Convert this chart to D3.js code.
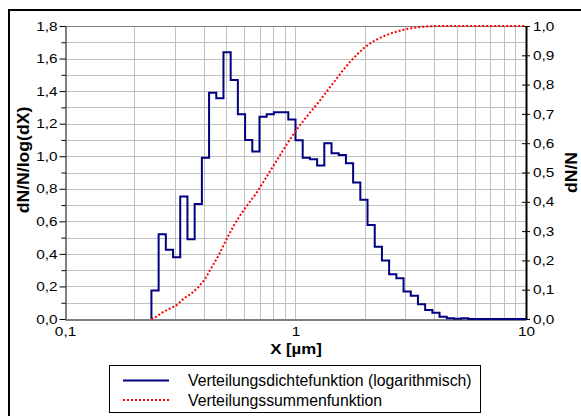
<!DOCTYPE html>
<html>
<head>
<meta charset="utf-8">
<script src="https://cdn.jsdelivr.net/npm/d3@7"></script>
<style>
body { margin: 0; background: #fff; }
svg { display: block; font-family: "Liberation Sans", Arial, sans-serif; }
</style>
</head>
<body>
<div id="chart"></div>
<script>
// Klassengrenzen in µm (32 Klassen pro Dekade)
const binEdges = [
    0.2371, 0.2548, 0.2738, 0.2943, 0.3162, 0.3398, 0.3652, 0.3925, 0.4217, 0.4532,
    0.4870, 0.5233, 0.5623, 0.6043, 0.6494, 0.6978, 0.7499, 0.8058, 0.8660, 0.9306,
    1.0000, 1.0746, 1.1548, 1.2409, 1.3335, 1.4330, 1.5399, 1.6548, 1.7783, 1.9110,
    2.0535, 2.2067, 2.3714, 2.5483, 2.7384, 2.9427, 3.1623, 3.3982, 3.6517, 3.9242,
    4.2170, 4.5316, 4.8697, 5.2330, 5.6234
];

// Verteilungsdichte dN/N/log(dX) je Klasse
const density = [
    0.175, 0.52, 0.425, 0.38, 0.752, 0.49, 0.707, 0.99, 1.39, 1.356,
    1.638, 1.469, 1.258, 1.10, 1.029, 1.243, 1.258, 1.27, 1.27, 1.225,
    1.098, 0.99, 0.982, 0.943, 1.08, 1.019, 1.008, 0.957, 0.838, 0.732,
    0.577, 0.444, 0.36, 0.275, 0.25, 0.169, 0.143, 0.09, 0.055, 0.039,
    0.014, 0.005, 0.002, 0.004
];

// Verteilungssumme dN/N je Klasse
const cumulative = [
    0.005, 0.022, 0.035, 0.047, 0.070, 0.086, 0.108, 0.139, 0.182, 0.225,
    0.276, 0.322, 0.361, 0.395, 0.427, 0.466, 0.506, 0.545, 0.585, 0.623,
    0.658, 0.689, 0.719, 0.749, 0.782, 0.814, 0.846, 0.876, 0.902, 0.925,
    0.943, 0.957, 0.968, 0.977, 0.984, 0.990, 0.994, 0.997, 0.999, 1.0,
    1.0, 1.0, 1.0, 1.0
];

const xTicks = [0.1, 1, 10];
const leftTicks = [0, 0.2, 0.4, 0.6, 0.8, 1.0, 1.2, 1.4, 1.6, 1.8];
const leftMinor = [0.1, 0.3, 0.5, 0.7, 0.9, 1.1, 1.3, 1.5, 1.7];
const rightTicks = [0, 0.1, 0.2, 0.3, 0.4, 0.5, 0.6, 0.7, 0.8, 0.9, 1.0];
const legendLabels = ["Verteilungsdichtefunktion (logarithmisch)", "Verteilungssummenfunktion"];

// Abmessungen
const width = 581;
const height = 416;
const plot = { left: 65, right: 526, top: 26, bottom: 319 };

const svg = d3.select("#chart")
    .append("svg")
    .attr("width", width)
    .attr("height", height);

svg.append("rect")
    .attr("x", 9).attr("y", 10)
    .attr("width", 600).attr("height", 600)
    .attr("fill", "#fff")
    .attr("stroke", "#000")
    .attr("stroke-width", 2);

const x = d3.scaleLog().domain([0.1, 10]).range([plot.left, plot.right]);
const yL = d3.scaleLinear().domain([0, 1.8]).range([plot.bottom, plot.top]);
const yR = d3.scaleLinear().domain([0, 1]).range([plot.bottom, plot.top]);

const fmt = v => d3.format(".1f")(v).replace(".", ",");

// Text etwas breiter ziehen (wie im Original)
function stretch(sel, factor) {
    sel.each(function () {
        const w = this.getComputedTextLength();
        d3.select(this)
            .attr("textLength", w * factor)
            .attr("lengthAdjust", "spacingAndGlyphs");
    });
}

// Gitternetz
const grid = svg.append("g").attr("stroke", "#c0c0c0").attr("stroke-width", 1);
grid.selectAll(".v")
    .data(x.ticks().filter(d => d > 0.1 && d < 10))
    .enter().append("line")
    .attr("x1", d => Math.round(x(d)) + 0.5)
    .attr("x2", d => Math.round(x(d)) + 0.5)
    .attr("y1", plot.top)
    .attr("y2", plot.bottom);
grid.selectAll(".h")
    .data(d3.range(1, 18).map(i => i / 10))
    .enter().append("line")
    .attr("x1", plot.left)
    .attr("x2", plot.right)
    .attr("y1", d => Math.round(yL(d)) + 0.5)
    .attr("y2", d => Math.round(yL(d)) + 0.5);

svg.append("line")
    .attr("x1", plot.left).attr("x2", plot.right)
    .attr("y1", plot.top + 0.5).attr("y2", plot.top + 0.5)
    .attr("stroke", "#808080");

// Achsen
svg.append("g")
    .attr("transform", `translate(${plot.left + 0.5},0)`)
    .call(d3.axisLeft(yL).tickValues(leftTicks).tickFormat(fmt).tickSize(6).tickSizeOuter(0).tickPadding(2));
svg.append("g")
    .attr("transform", `translate(${plot.left + 0.5},0)`)
    .call(d3.axisLeft(yL).tickValues(leftMinor).tickFormat("").tickSize(4).tickSizeOuter(0))
    .select(".domain").remove();

const axisRight = svg.append("g")
    .attr("transform", `translate(${plot.right},0)`)
    .call(d3.axisRight(yR).tickValues(rightTicks).tickFormat(fmt).tickSize(4).tickSizeOuter(0).tickPadding(3));
svg.append("g")
    .attr("transform", `translate(${plot.right},0)`)
    .call(d3.axisLeft(yR).tickValues(rightTicks).tickFormat("").tickSize(4).tickSizeOuter(0))
    .select(".domain").remove();
axisRight.select(".domain").attr("stroke-width", 2);

svg.append("g")
    .attr("transform", `translate(0,${plot.bottom + 0.5})`)
    .call(d3.axisBottom(x).tickValues(xTicks).tickFormat(d => String(d).replace(".", ",")).tickSize(0).tickSizeOuter(0).tickPadding(7));

svg.selectAll(".tick text")
    .attr("font-family", "Liberation Sans, Arial, sans-serif")
    .attr("font-size", 13)
    .attr("fill", "#000")
    .filter(function () { return this.textContent.length > 0; })
    .call(stretch, 1.18);
svg.selectAll(".domain, .tick line").attr("stroke", "#000");

// Kurven
const stepData = [[binEdges[0], 0]]
    .concat(density.map((d, i) => [binEdges[i], d]))
    .concat([[binEdges[binEdges.length - 1], 0], [10, 0]]);

svg.append("path")
    .datum(stepData)
    .attr("fill", "none")
    .attr("stroke", "#000080")
    .attr("stroke-width", 2)
    .attr("d", d3.line().x(d => x(d[0])).y(d => yL(d[1])).curve(d3.curveStepAfter));

const sumData = [[binEdges[0], 0]]
    .concat(cumulative.map((c, i) => [Math.sqrt(binEdges[i] * binEdges[i + 1]), c]))
    .concat([[10, 1]]);

svg.append("path")
    .datum(sumData)
    .attr("fill", "none")
    .attr("stroke", "#ff0000")
    .attr("stroke-width", 2)
    .attr("stroke-dasharray", "2,2")
    .attr("d", d3.line().x(d => x(d[0])).y(d => yR(d[1])));

// Achsentitel
svg.append("text")
    .attr("x", 296).attr("y", 354)
    .attr("text-anchor", "middle")
    .attr("font-size", 15)
    .attr("font-weight", "bold")
    .text("X [µm]")
    .call(stretch, 1.12);

svg.append("text")
    .attr("transform", "translate(28.5,160) rotate(-90)")
    .attr("text-anchor", "middle")
    .attr("font-size", 16)
    .attr("font-weight", "bold")
    .text("dN/N/log(dX)")
    .call(stretch, 1.1);

svg.append("text")
    .attr("transform", "translate(577,172.5) rotate(-90)")
    .attr("text-anchor", "middle")
    .attr("font-size", 16)
    .attr("font-weight", "bold")
    .text("dN/N")
    .call(stretch, 1.1);

// Legende
const legend = svg.append("g");
legend.append("rect")
    .attr("x", 109.5).attr("y", 365.5)
    .attr("width", 371).attr("height", 47)
    .attr("fill", "#fff")
    .attr("stroke", "#000");

const legendStyles = [
    { color: "#000080", dash: null },
    { color: "#ff0000", dash: "2,2" }
];

legend.selectAll(".sample")
    .data(legendLabels)
    .enter().append("line")
    .attr("x1", 123).attr("x2", 169)
    .attr("y1", (d, i) => 380.5 + i * 19.5)
    .attr("y2", (d, i) => 380.5 + i * 19.5)
    .attr("stroke", (d, i) => legendStyles[i].color)
    .attr("stroke-width", 2)
    .attr("stroke-dasharray", (d, i) => legendStyles[i].dash);

legend.selectAll(".label")
    .data(legendLabels)
    .enter().append("text")
    .attr("x", 188)
    .attr("y", (d, i) => 386 + i * 19.5)
    .attr("font-size", 15.8)
    .text(d => d);
</script>
</body>
</html>
